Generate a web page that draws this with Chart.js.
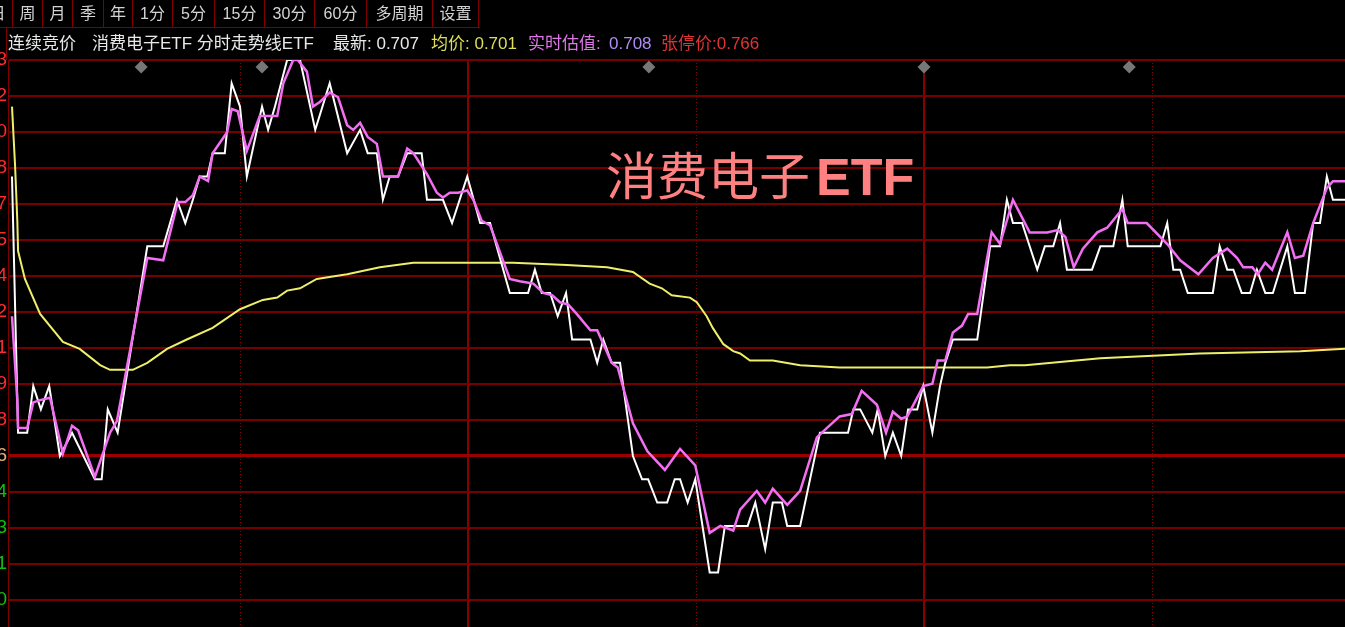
<!DOCTYPE html>
<html>
<head>
<meta charset="utf-8">
<script src="https://cdn.jsdelivr.net/npm/chart.js@4.4.1/dist/chart.umd.min.js"></script>
<style>
html, body { margin: 0; padding: 0; background: #000; overflow: hidden; }
#wrap { position: relative; width: 1345px; height: 627px; background: #000; }
#c { position: absolute; left: 0; top: 0; }
#bar { position: absolute; left: 0; top: 0; width: 480px; height: 27px; border-bottom: 1px solid #800000; }
.btn { position: absolute; top: 0; height: 27px; line-height: 27px; border-right: 1px solid #800000;
       color: #d4d4d4; text-align: center; font: 16px "Liberation Sans", "Noto Sans CJK SC"; box-sizing: border-box; }
#info { position: absolute; left: 6px; top: 28px; width: 1339px; height: 32px; border-left: 1px solid #800000; }
.seg { position: absolute; top: 5px; height: 22px; line-height: 22px; font: 17px/22px "Liberation Sans", "Noto Sans CJK SC"; white-space: nowrap; }
#title { position: absolute; left: 606px; top: 138px; line-height: 70px; color: #ff8080; font: 51px/70px "Noto Sans CJK SC"; white-space: nowrap; }
#title b { font: bold 52px/70px "Liberation Sans"; margin-left: 6px; }
</style>
</head>
<body>
<div id="wrap">
  <canvas id="c" width="1345" height="627"></canvas>
  <div id="bar">
    <span class="btn" style="left:-17px;width:30px">日</span>
    <span class="btn" style="left:13px;width:30px">周</span>
    <span class="btn" style="left:43px;width:30px">月</span>
    <span class="btn" style="left:73px;width:31px">季</span>
    <span class="btn" style="left:104px;width:29px">年</span>
    <span class="btn" style="left:133px;width:40px">1分</span>
    <span class="btn" style="left:173px;width:42px">5分</span>
    <span class="btn" style="left:215px;width:50px">15分</span>
    <span class="btn" style="left:265px;width:50px">30分</span>
    <span class="btn" style="left:315px;width:52px">60分</span>
    <span class="btn" style="left:367px;width:66px">多周期</span>
    <span class="btn" style="left:433px;width:46px">设置</span>
  </div>
  <div id="info">
    <span class="seg" style="left:1px;color:#e8e8e8">连续竞价</span>
    <span class="seg" style="left:85px;color:#e8e8e8">消费电子ETF 分时走势线ETF</span>
    <span class="seg" style="left:326px;color:#e8e8e8">最新: 0.707</span>
    <span class="seg" style="left:424px;color:#dede5a">均价: 0.701</span>
    <span class="seg" style="left:521px;color:#dc78e6">实时估值:</span>
    <span class="seg" style="left:602px;color:#b08cf6">0.708</span>
    <span class="seg" style="left:654px;color:#e03434">张停价:0.766</span>
  </div>
  <div id="title">消费电子<b>ETF</b></div>
</div>
<script>
// 昨收 / 坐标
const prevClose = 0.696;
const yTickValues = [0.68982, 0.69136, 0.69291, 0.69445, 0.696, 0.69755, 0.69909, 0.70064,
                     0.70218, 0.70373, 0.70527, 0.70682, 0.70836, 0.70991, 0.71145, 0.713];
const yTickLabels = ['0.690', '0.691', '0.693', '0.694', '0.696', '0.698', '0.699', '0.701',
                     '0.702', '0.704', '0.705', '0.707', '0.708', '0.710', '0.712', '0.713'];
const gridMinutes = [30, 60, 90, 120, 150];   // 10:00 10:30 11:00 11:30/13:00 13:30
const solidMinutes = [60, 120];

// 价格 (白线), 分钟从 9:30 起
const priceMinutes = [0, 0.8, 2.0, 2.8, 3.8, 4.9, 6.3, 7.9, 10.9, 11.8, 12.6, 13.9, 17.8, 19.9, 21.7, 22.8, 23.8, 24.7, 25.7, 26.4,
  28.0, 28.9, 30.0, 30.9, 32.9, 33.7, 34.6, 36.2, 37.9, 39.9, 41.8, 44.1, 45.8, 46.8, 48.0, 48.8, 49.7, 50.8, 52.0, 53.9,
  54.6, 56.7, 57.9, 59.9, 61.6, 62.9, 65.5, 67.9, 68.8, 69.7, 70.8, 71.8, 72.9, 73.7, 76.1, 77.0, 77.8, 78.9, 80.0, 81.7,
  82.9, 83.7, 84.9, 86.2, 87.2, 87.9, 88.9, 89.9, 91.8, 92.9, 93.8, 96.8, 97.8, 99.1, 100.1, 101.3, 102.0, 103.7, 106.3, 110.0,
  110.7, 111.6, 113.2, 113.9, 114.9, 115.9, 117.0, 117.9, 119.1, 119.9, 121.1, 122.1, 122.8, 123.8, 127.0, 128.7, 130.0, 130.9, 131.7, 132.9,
  134.9, 135.9, 137.0, 137.9, 138.8, 142.1, 143.2, 144.9, 146.1, 146.8, 151.1, 152.0, 152.8, 153.7, 154.7, 158.0, 158.9, 159.9, 160.7, 161.8,
  162.9, 163.8, 164.9, 165.9, 167.8, 168.8, 170.1, 171.2, 172.1, 173.0, 173.8, 175.4];
const priceValues = [0.708, 0.697, 0.697, 0.699, 0.698, 0.699, 0.696, 0.697, 0.695, 0.695, 0.698, 0.697, 0.705, 0.705, 0.707, 0.706, 0.707, 0.708, 0.708, 0.709,
  0.709, 0.712, 0.711, 0.708, 0.711, 0.710, 0.711, 0.713, 0.713, 0.710, 0.712, 0.709, 0.710, 0.709, 0.709, 0.707, 0.708, 0.708, 0.709, 0.709,
  0.707, 0.707, 0.706, 0.708, 0.706, 0.706, 0.703, 0.703, 0.704, 0.703, 0.703, 0.702, 0.703, 0.701, 0.701, 0.700, 0.701, 0.700, 0.700, 0.696,
  0.695, 0.695, 0.694, 0.694, 0.695, 0.695, 0.694, 0.695, 0.691, 0.691, 0.693, 0.693, 0.694, 0.692, 0.694, 0.694, 0.693, 0.693, 0.697, 0.697,
  0.698, 0.698, 0.697, 0.698, 0.696, 0.697, 0.696, 0.698, 0.698, 0.699, 0.697, 0.699, 0.700, 0.701, 0.701, 0.705, 0.705, 0.707, 0.706, 0.706,
  0.704, 0.705, 0.705, 0.706, 0.704, 0.704, 0.705, 0.705, 0.707, 0.705, 0.705, 0.706, 0.704, 0.704, 0.703, 0.703, 0.705, 0.704, 0.704, 0.703,
  0.703, 0.704, 0.703, 0.703, 0.705, 0.703, 0.703, 0.706, 0.706, 0.708, 0.707, 0.707];

// 实时估值 (紫线)
const iopvMinutes = [0, 0.7, 0.8, 2.0, 2.8, 3.7, 5.0, 6.7, 7.9, 8.7, 10.9, 12.9, 13.8, 17.8, 19.9, 21.8, 22.8, 23.8, 24.7, 25.8,
  26.4, 28.3, 28.9, 29.7, 30.9, 32.6, 34.9, 35.7, 37.0, 37.6, 38.8, 39.6, 40.5, 41.8, 42.9, 44.1, 44.9, 45.8, 46.8, 48.0,
  48.8, 50.8, 52.0, 52.8, 54.6, 55.9, 56.7, 57.6, 58.7, 59.9, 60.7, 61.8, 62.9, 65.5, 66.8, 68.6, 69.9, 71.1, 72.1, 73.2,
  74.3, 76.1, 77.0, 78.9, 79.7, 81.7, 83.6, 85.9, 87.9, 89.9, 91.8, 93.2, 94.9, 95.8, 98.0, 99.1, 100.1, 102.0, 103.7, 105.9,
  107.2, 108.9, 110.5, 111.8, 113.8, 115.0, 115.9, 117.0, 117.8, 119.9, 121.1, 121.8, 122.8, 123.8, 125.0, 125.8, 127.0, 128.9, 130.0, 131.7,
  133.9, 136.2, 137.6, 138.6, 139.7, 140.9, 142.8, 144.1, 146.1, 146.8, 149.3, 152.0, 153.7, 156.1, 158.0, 159.9, 161.2, 162.0, 163.2, 163.9,
  164.9, 165.8, 167.8, 168.8, 169.9, 171.2, 173.0, 173.8, 175.4];
const iopvValues = [0.7020, 0.6984, 0.6972, 0.6972, 0.6983, 0.6984, 0.6985, 0.6961, 0.6973, 0.6971, 0.6951, 0.6970, 0.6975, 0.7045, 0.7044, 0.7069, 0.7069, 0.7072, 0.7080, 0.7078,
  0.7090, 0.7099, 0.7109, 0.7108, 0.7091, 0.7106, 0.7106, 0.7120, 0.7130, 0.7130, 0.7125, 0.7110, 0.7112, 0.7116, 0.7114, 0.7102, 0.7100, 0.7103, 0.7097, 0.7094,
  0.7080, 0.7080, 0.7092, 0.7090, 0.7081, 0.7073, 0.7071, 0.7073, 0.7073, 0.7074, 0.7070, 0.7061, 0.7059, 0.7036, 0.7035, 0.7034, 0.7030, 0.7029, 0.7026, 0.7025,
  0.7021, 0.7014, 0.7014, 0.7000, 0.6998, 0.6974, 0.6962, 0.6954, 0.6963, 0.6956, 0.6927, 0.6930, 0.6928, 0.6937, 0.6945, 0.6940, 0.6946, 0.6939, 0.6945, 0.6968,
  0.6972, 0.6977, 0.6978, 0.6988, 0.6982, 0.6970, 0.6979, 0.6976, 0.6977, 0.6990, 0.6991, 0.7001, 0.7001, 0.7013, 0.7016, 0.7021, 0.7021, 0.7056, 0.7051, 0.7070,
  0.7056, 0.7056, 0.7057, 0.7054, 0.7041, 0.7049, 0.7056, 0.7058, 0.7066, 0.7060, 0.7060, 0.7051, 0.7044, 0.7038, 0.7045, 0.7049, 0.7045, 0.7041, 0.7041, 0.7038,
  0.7043, 0.7040, 0.7056, 0.7045, 0.7046, 0.7060, 0.7075, 0.7078, 0.7078];

// 均价 (黄线)
const avgMinutes = [0, 0.4, 0.7, 0.8, 1.7, 3.7, 6.7, 8.9, 11.6, 12.9, 15.9, 17.8, 19.1, 20.4, 23.0, 26.4, 30.0, 33.0, 34.9, 36.2,
  37.9, 40.1, 44.1, 48.4, 52.8, 57.2, 65.9, 73.0, 78.3, 81.7, 83.9, 85.5, 86.8, 89.2, 90.1, 91.4, 92.2, 93.6, 94.9, 95.8,
  97.1, 100.1, 103.7, 108.9, 119.9, 128.3, 131.3, 133.3, 143.2, 156.3, 169.5, 175.4];
const avgValues = [0.7110, 0.7085, 0.7061, 0.7048, 0.7036, 0.7021, 0.7009, 0.7006, 0.6999, 0.6997, 0.6997, 0.7000, 0.7003, 0.7006, 0.7010, 0.7015, 0.7023, 0.7027, 0.7028, 0.7031,
  0.7032, 0.7036, 0.7038, 0.7041, 0.7043, 0.7043, 0.7043, 0.7042, 0.7041, 0.7039, 0.7034, 0.7032, 0.7029, 0.7028, 0.7026, 0.7020, 0.7015, 0.7008, 0.7005, 0.7004,
  0.7001, 0.7001, 0.6999, 0.6998, 0.6998, 0.6998, 0.6999, 0.6999, 0.7002, 0.7004, 0.7005, 0.7006];

// 顶部事件标记
const eventMinutes = [17.0, 32.9, 83.8, 120.0, 147.0];
const eventLevel = 0.7127;

function pts(xs, ys) {
    return xs.map(function (x, i) { return { x: x, y: ys[i] }; });
}

// 去掉坐标轴为标签预留的边距, 让绘图区铺满画布
function noPadding(s) {
    s.paddingLeft = 0;
    s.paddingRight = 0;
    s.paddingTop = 0;
    s.paddingBottom = 0;
}

const ctx = document.getElementById('c').getContext('2d');
const chart = new Chart(ctx, {
    type: 'line',
    data: {
        datasets: [{
            label: '事件',
            type: 'scatter',
            data: eventMinutes.map(function (t) { return { x: t, y: eventLevel }; }),
            pointStyle: 'rectRot',
            pointRadius: 6.5,
            backgroundColor: '#777777',
            borderWidth: 0
        }, {
            label: '实时估值',
            data: pts(iopvMinutes, iopvValues),
            borderColor: '#f26ef2',
            borderWidth: 2.5,
            pointRadius: 0,
            tension: 0
        }, {
            label: '价格',
            data: pts(priceMinutes, priceValues),
            borderColor: '#ffffff',
            borderWidth: 2,
            pointRadius: 0,
            tension: 0
        }, {
            label: '均价',
            data: pts(avgMinutes, avgValues),
            borderColor: '#eeee6a',
            borderWidth: 2,
            pointRadius: 0,
            tension: 0
        }]
    },
    options: {
        responsive: false,
        animation: false,
        layout: { autoPadding: false, padding: { top: 60, left: 0, right: 0, bottom: 0 } },
        plugins: { legend: { display: false }, tooltip: { enabled: false } },
        scales: {
            x: {
                type: 'linear',
                min: -0.526,
                max: 175.39,
                afterBuildTicks: function (s) { s.ticks = gridMinutes.map(function (v) { return { value: v }; }); },
                afterFit: function (s) { s.height = 0; noPadding(s); },
                ticks: { display: false },
                grid: {
                    drawTicks: false,
                    color: '#8a0000',
                    lineWidth: function (c) { return solidMinutes.indexOf(c.tick && c.tick.value) >= 0 ? 2 : 1; }
                },
                border: {
                    display: false,
                    dash: function (c) { return solidMinutes.indexOf(c.tick && c.tick.value) >= 0 ? [] : [1, 2]; }
                }
            },
            y: {
                min: 0.688659,
                max: 0.713,
                afterBuildTicks: function (s) { s.ticks = yTickValues.map(function (v) { return { value: v }; }); },
                afterFit: function (s) { s.width = 8; noPadding(s); },
                ticks: {
                    autoSkip: false,
                    padding: 1,
                    callback: function (v, i) { return yTickLabels[i]; },
                    color: function (c) {
                        if (c.index === 4) return '#e0b080';
                        return c.index < 4 ? '#10c010' : '#ff2a2a';
                    },
                    font: { family: 'Liberation Sans', size: 19 }
                },
                grid: {
                    drawTicks: false,
                    color: function (c) { return c.index === 4 ? '#9a0000' : '#760000'; },
                    lineWidth: function (c) { return c.index === 4 ? 3 : 2; }
                },
                border: { display: true, color: '#800000', width: 1 }
            }
        }
    }
});
</script>
</body>
</html>
